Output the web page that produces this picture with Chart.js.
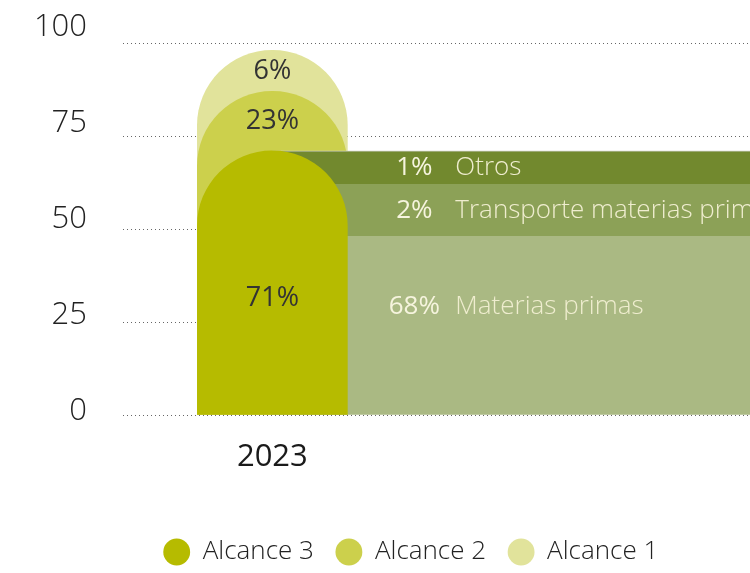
<!DOCTYPE html>
<html lang="es">
<head>
<meta charset="utf-8">
<title>Emisiones por alcance 2023</title>
<script src="https://cdn.jsdelivr.net/npm/chart.js"></script>
<style>
  html, body { margin: 0; padding: 0; background: #fff; overflow: hidden; }
  /* el gráfico original está recortado a la derecha */
  .grafico { position: relative; width: 822px; height: 573px; }
</style>
</head>
<body>
<div class="grafico"><canvas id="emisiones"></canvas></div>
<script>
// DATOS
const anios = ["2023"];
const alcances = ["Alcance 3", "Alcance 2", "Alcance 1"];
const alturaAlcance = [71, 87, 98];       // altura visible de cada barra
const pctAlcance = [71, 23, 6];
const desglose = ["Materias primas", "Transporte materias primas", "Otros"];
const pctDesglose = [68, 2, 1];
const tramosDesglose = [[0, 48], [48, 62], [62, 71]];
const ticksY = [0, 25, 50, 75, 100];

// COLORES
const coloresAlcance = ["#b6bb00", "#ccd04c", "#e1e39b"];
const coloresDesglose = ["#aab983", "#8ca157", "#72892e"];

Chart.defaults.font.family = "'Open Sans', sans-serif";

const datasets = [];

// barras de alcance (Alcance 3 delante, las otras detrás del desglose)
alcances.forEach(function(nombre, i) {
  datasets.push({
    label: nombre,
    data: [{ x: 0, y: alturaAlcance[i] }],
    backgroundColor: coloresAlcance[i],
    borderWidth: 0,
    barThickness: 150,
    borderRadius: { topLeft: 75, topRight: 75 },
    grouped: false,
    order: i === 0 ? 0 : 3 + i
  });
});

// desglose de Alcance 3, sale hacia la derecha
desglose.forEach(function(nombre, i) {
  const ultimo = i === desglose.length - 1;
  datasets.push({
    label: nombre,
    data: [{ x: 1, y: tramosDesglose[i] }],
    backgroundColor: coloresDesglose[i],
    borderColor: "#c9cbc0",
    borderWidth: ultimo ? { top: 1, left: 0, right: 0, bottom: 0 } : 0,
    barThickness: 598,
    grouped: false,
    order: 1 + i
  });
});

// textos dentro de las barras
const etiquetas = {
  id: "etiquetas",
  afterDatasetsDraw(chart) {
    const ctx = chart.ctx;
    ctx.save();
    ctx.textBaseline = "middle";

    ctx.font = "400 27px 'Open Sans'";
    ctx.fillStyle = "#333";
    ctx.textAlign = "center";
    alcances.forEach(function(n, i) {
      const el = chart.getDatasetMeta(i).data[0];
      const abajo = i === 0 ? el.base : chart.getDatasetMeta(i - 1).data[0].y;
      let y = (el.y + abajo) / 2;
      if (i === 0) y += 16;
      ctx.fillText(pctAlcance[i] + "%", el.x, y);
    });

    const barra = chart.getDatasetMeta(0).data[0];
    const borde = barra.x + barra.width / 2;
    desglose.forEach(function(nombre, i) {
      const el = chart.getDatasetMeta(3 + i).data[0];
      let y = (el.y + el.base) / 2;
      if (i === 0) y -= 19;
      ctx.font = "400 26px 'Open Sans'";
      ctx.fillStyle = "#f6f4de";
      ctx.textAlign = "center";
      ctx.fillText(pctDesglose[i] + "%", borde + 67, y);
      ctx.font = "300 26px 'Open Sans'";
      ctx.fillStyle = "#efedcf";
      ctx.textAlign = "left";
      ctx.fillText(nombre, borde + 108, y);
    });
    ctx.restore();
  }
};

function sinRelleno(s) {
  s.paddingTop = 0;
  s.paddingBottom = 0;
}

new Chart("emisiones", {
  type: "bar",
  data: { datasets: datasets },
  options: {
    responsive: true,
    maintainAspectRatio: false,
    animation: false,
    layout: { padding: { top: 43, left: 0, right: 0, bottom: -2 } },
    plugins: {
      tooltip: { enabled: false },
      legend: {
        position: "bottom",
        labels: {
          usePointStyle: true,
          pointStyle: "circle",
          boxWidth: 26,
          boxHeight: 19,
          padding: 22,
          color: "#222",
          font: { size: 26, weight: 300 },
          filter: function(item) { return item.datasetIndex < 3; }
        }
      }
    },
    scales: {
      x: {
        type: "linear",
        min: -0.5,
        max: 1.84,
        offset: false,
        afterBuildTicks: function(s) { s.ticks = anios.map(function(a, i) { return { value: i }; }); },
        afterFit: function(s) { s.height = 102; },
        ticks: {
          callback: function(v) { return anios[v] || ""; },
          padding: 24,
          maxRotation: 0,
          color: "#1a1a1a",
          font: { size: 31 }
        },
        grid: { display: false, drawTicks: false },
        border: { display: false }
      },
      // eje de las líneas guía
      y: {
        min: 0,
        max: 100,
        afterBuildTicks: function(s) { s.ticks = ticksY.map(function(v) { return { value: v }; }); },
        afterFit: function(s) { s.width = 0; sinRelleno(s); },
        ticks: { display: false },
        grid: { color: "#666", drawTicks: false },
        border: { display: false, dash: [1, 3] }
      },
      // eje de los rótulos: en el original van algo más espaciados que las líneas
      yRotulos: {
        type: "linear",
        position: "left",
        min: -1.04,
        max: 95.83,
        afterBuildTicks: function(s) { s.ticks = ticksY.map(function(v) { return { value: v }; }); },
        afterFit: function(s) { s.width = 123; sinRelleno(s); },
        ticks: {
          padding: 36,
          color: "#222",
          font: { size: 31, weight: 300 }
        },
        grid: { display: false, drawTicks: false },
        border: { display: false }
      }
    }
  },
  plugins: [etiquetas]
});
</script>
</body>
</html>
